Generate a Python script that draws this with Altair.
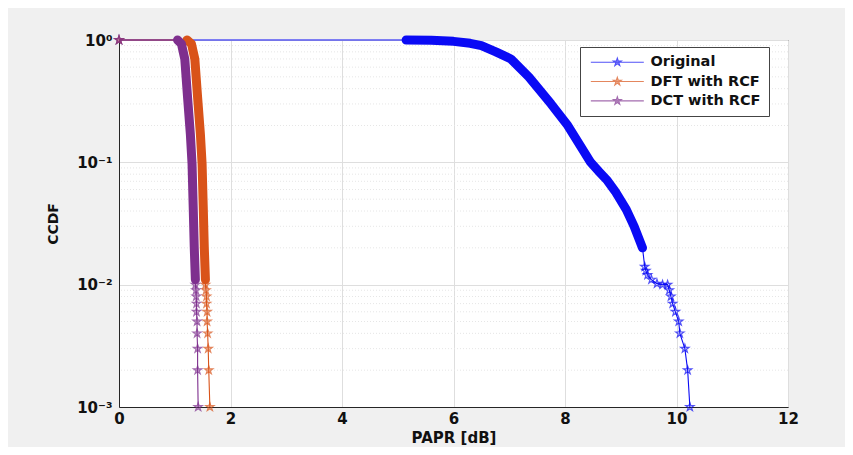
import altair as alt
import pandas as pd

# ---------------- data ----------------
SERIES = ["Original", "DFT with RCF", "DCT with RCF"]
COLORS = ["#0a0af5", "#d95319", "#7e2f8e"]

# dense (band-like) upper part of each CCDF curve
ORIG_BAND_X = [5.15, 5.6, 6.0, 6.3, 6.5, 6.76, 7.03, 7.35, 7.75, 8.05, 8.46, 8.62, 8.76, 8.9, 9.1, 9.24, 9.39]
ORIG_BAND_Y = [1.0, 0.995, 0.975, 0.94, 0.9, 0.8, 0.7, 0.5, 0.3, 0.2, 0.1, 0.083, 0.071, 0.058, 0.041, 0.03, 0.02]
# sparse tail (individual markers)
ORIG_TAIL_X = [9.43, 9.45, 9.48, 9.55, 9.65, 9.75, 9.84, 9.87, 9.90, 9.93, 9.98, 10.04, 10.06, 10.15, 10.20, 10.24]
ORIG_TAIL_Y = [0.014, 0.013, 0.012, 0.011, 0.0102, 0.0100, 0.0100, 0.009, 0.008, 0.007, 0.006, 0.005, 0.004, 0.003, 0.002, 0.001]

DFT_BAND_X = [1.22, 1.30, 1.36, 1.41, 1.46, 1.49, 1.51, 1.53, 1.55]
DFT_BAND_Y = [1.0, 0.93, 0.7, 0.34, 0.17, 0.098, 0.045, 0.02, 0.011]
DFT_TAIL_X = [1.55, 1.56, 1.57, 1.57, 1.58, 1.58, 1.59, 1.60, 1.61, 1.63]
DFT_TAIL_Y = [0.010, 0.009, 0.008, 0.007, 0.006, 0.005, 0.004, 0.003, 0.002, 0.001]

DCT_BAND_X = [1.05, 1.12, 1.18, 1.23, 1.28, 1.31, 1.33, 1.35, 1.37]
DCT_BAND_Y = [1.0, 0.93, 0.7, 0.34, 0.17, 0.098, 0.045, 0.02, 0.011]
DCT_TAIL_X = [1.37, 1.38, 1.385, 1.39, 1.39, 1.40, 1.40, 1.41, 1.41, 1.42]
DCT_TAIL_Y = [0.010, 0.009, 0.008, 0.007, 0.006, 0.005, 0.004, 0.003, 0.002, 0.001]

START_X = 0.0
START_Y = 1.0

X_TICKS = [0, 2, 4, 6, 8, 10, 12]
Y_TICKS = [1, 0.1, 0.01, 0.001]
Y_MINOR = [k * d for d in (0.001, 0.01, 0.1) for k in range(2, 10)]

# ---------------- tables ----------------
parts = {
    "Original": (ORIG_BAND_X, ORIG_BAND_Y, ORIG_TAIL_X, ORIG_TAIL_Y),
    "DFT with RCF": (DFT_BAND_X, DFT_BAND_Y, DFT_TAIL_X, DFT_TAIL_Y),
    "DCT with RCF": (DCT_BAND_X, DCT_BAND_Y, DCT_TAIL_X, DCT_TAIL_Y),
}
rows = []
for s, (bx, by, tx, ty) in parts.items():
    rows.append({"series": s, "x": START_X, "y": START_Y, "part": "start"})
    for x, y in zip(bx, by):
        rows.append({"series": s, "x": x, "y": y, "part": "band"})
    for x, y in zip(tx, ty):
        rows.append({"series": s, "x": x, "y": y, "part": "tail"})
df = pd.DataFrame(rows)
minor_df = pd.DataFrame({"y": Y_MINOR})


def star(scale=1.0, dx=0.0):
    pts = [(0, -1), (0.2245, -0.309), (0.951, -0.309), (0.363, 0.118), (0.588, 0.809),
           (0, 0.382), (-0.588, 0.809), (-0.363, 0.118), (-0.951, -0.309), (-0.2245, -0.309)]
    return "M" + " L".join(f"{dx + px * scale:.4f},{py * scale:.4f}" for px, py in pts) + " Z"


STAR = star()
LEGEND_SYMBOL = "M-1,0 L11,0 " + star(0.95, 5.0)

FONT = "DejaVu Sans"

x_enc = alt.X("x:Q", scale=alt.Scale(domain=[0, 12], nice=False, zero=False),
              axis=alt.Axis(values=X_TICKS, title="PAPR [dB]", format="d", labelFlush=False))
y_enc = alt.Y("y:Q", scale=alt.Scale(type="log", domain=[0.001, 1], nice=False),
              axis=alt.Axis(values=Y_TICKS, title="CCDF", labelFlush=False,
                            labelExpr="datum.value >= 1 ? '10⁰' : datum.value >= 0.1 ? '10⁻¹' : datum.value >= 0.01 ? '10⁻²' : '10⁻³'"))
color_scale = alt.Scale(domain=SERIES, range=COLORS)
legend = alt.Legend(title=None, orient="none", legendX=461, legendY=7,
                    symbolType=LEGEND_SYMBOL, symbolSize=78, symbolStrokeWidth=1.1,
                    labelFont=FONT, labelFontSize=14.5, labelFontWeight="bold", labelColor="#111",
                    fillColor="white", strokeColor="#444", padding=8, rowPadding=4.3,
                    labelOffset=48)

minor = alt.Chart(minor_df).mark_rule(color="#e6e6e6", strokeDash=[1, 2], strokeWidth=1).encode(
    y=y_enc
)

layers = [minor]
for s in SERIES:
    base = alt.Chart(df).transform_filter(alt.datum.series == s)
    col = alt.Color("series:N", scale=color_scale, legend=legend)
    thin = base.mark_line(strokeWidth=1.1, clip=False).encode(x=x_enc, y=y_enc, color=col)
    band = base.transform_filter(alt.datum.part == "band").mark_line(
        strokeWidth=9, strokeCap="round", strokeJoin="round", clip=False
    ).encode(x=x_enc, y=y_enc, color=col)
    filled = 0.0 if s == "Original" else 0.55
    pts = base.transform_filter(alt.datum.part != "band").mark_point(
        shape=STAR, size=75, strokeWidth=1.2, filled=False, clip=False
    ).encode(x=x_enc, y=y_enc, color=col,
             fill=alt.Fill("series:N", scale=color_scale, legend=None),
             fillOpacity=alt.value(filled))
    layers += [thin, band, pts]

chart = alt.layer(*layers).properties(
    width=669, height=367,
    autosize=alt.AutoSizeParams(type="none"),
    padding={"left": 111, "top": 32, "right": 57, "bottom": 40},
    background="#f0f0f0",
).configure_view(
    fill="white", stroke="#262626", strokeWidth=1
).configure_axis(
    labelFont=FONT, labelFontSize=15, labelFontWeight="bold", labelColor="#111",
    titleFont=FONT, titleFontWeight="bold", titleColor="#111",
    ticks=False, domainColor="#262626", grid=True, gridColor="#dedede", gridWidth=1,
).configure_axisX(
    labelPadding=4, titlePadding=4, titleFontSize=15
).configure_axisY(
    labelPadding=7, titlePadding=16, titleFontSize=14
)

chart.save("out.html", embed_options={"renderer": "svg", "actions": False})
